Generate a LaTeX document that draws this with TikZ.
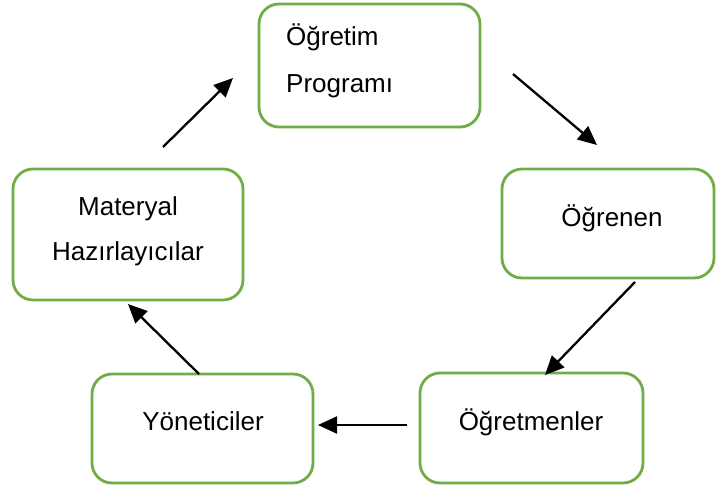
\documentclass[tikz,border=0pt]{standalone}
\usepackage{fontspec}
\setmainfont{Liberation Sans}
\usetikzlibrary{arrows.meta}
\definecolor{boxgreen}{HTML}{70AD47}
\begin{document}
\begin{tikzpicture}[x=1pt,y=-1pt,
  box/.style={draw=boxgreen,line width=2.8pt,rounded corners=20pt,fill=white,inner sep=0pt},
  txt/.style={font=\fontsize{26}{47}\selectfont,inner sep=0pt},
  arr/.style={line width=2.3pt,-{Triangle[length=19pt,width=17pt]}}]
\useasboundingbox (0,0) rectangle (716,485);
% boxes
\node[box,minimum width=221pt,minimum height=123pt] (prog) at (369.5,65.5) {};
\node[box,minimum width=212pt,minimum height=109pt] (ogr) at (608,223.5) {};
\node[box,minimum width=223pt,minimum height=110pt] (ogt) at (531.5,428) {};
\node[box,minimum width=221pt,minimum height=109pt] (yon) at (202.5,428.5) {};
\node[box,minimum width=230pt,minimum height=131pt] (mat) at (128,234.5) {};
% labels
\node[txt,anchor=base west] (t1a) at (286,45) {Öğretim};
\node[txt,anchor=base west] (t1b) at (286,92) {Programı};
\node[txt,anchor=base] (t2) at (612,226) {Öğrenen};
\node[txt,anchor=base] (t3) at (531,430) {Öğretmenler};
\node[txt,anchor=base] (t4) at (203,430) {Yöneticiler};
\node[txt,anchor=base] (t5a) at (128,215) {Materyal};
\node[txt,anchor=base] (t5b) at (128,260) {Hazırlayıcılar};
% arrow ends
\coordinate (a1s) at (163,147); \coordinate (a1e) at (233,78);
\coordinate (a2s) at (513,74);  \coordinate (a2e) at (597,145);
\coordinate (a3s) at (635,282); \coordinate (a3e) at (545,375);
\coordinate (a4s) at (407,425); \coordinate (a4e) at (318,425);
\coordinate (a5s) at (199,374); \coordinate (a5e) at (128,304);
% cycle arrows
\draw[arr] (a1s) -- (a1e);
\draw[arr] (a2s) -- (a2e);
\draw[arr] (a3s) -- (a3e);
\draw[arr] (a4s) -- (a4e);
\draw[arr] (a5s) -- (a5e);
\end{tikzpicture}
\end{document}
